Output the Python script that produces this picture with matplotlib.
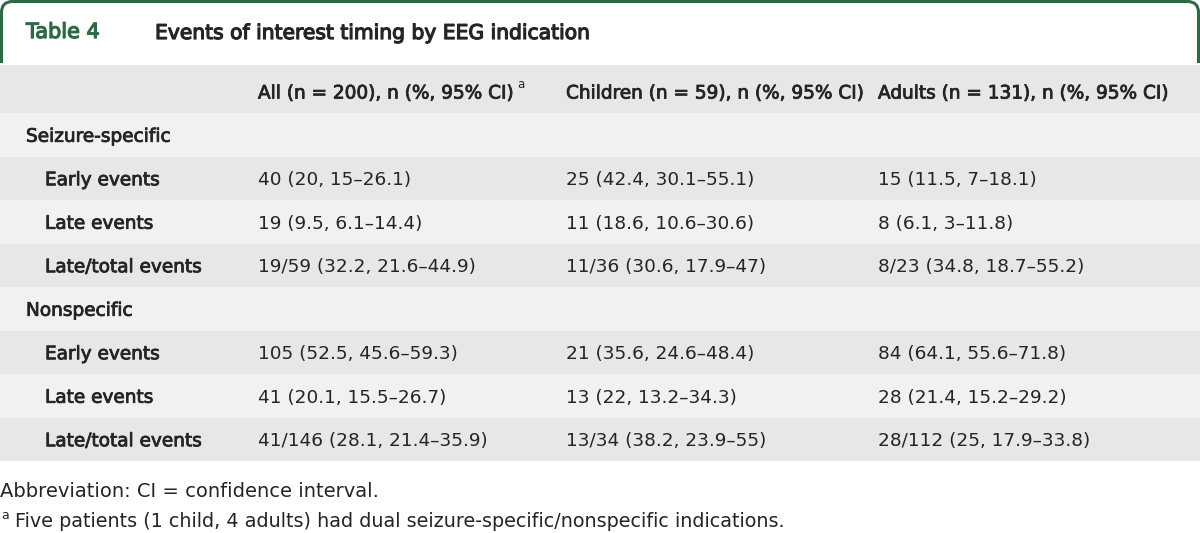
import matplotlib
matplotlib.use("Agg")
import matplotlib.pyplot as plt
from matplotlib.patches import Rectangle, PathPatch
from matplotlib.path import Path
import matplotlib.patheffects as pe

W, H = 1200, 533
table_label = "Table 4"
table_title = "Events of interest timing by EEG indication"
col_headers = ["All (n = 200), n (%, 95% CI)", "Children (n = 59), n (%, 95% CI)",
               "Adults (n = 131), n (%, 95% CI)"]
header_sup = "a"
row_labels = ["Seizure-specific", "Early events", "Late events", "Late/total events",
              "Nonspecific", "Early events", "Late events", "Late/total events"]
row_is_section = [True, False, False, False, True, False, False, False]
all_col = ["", "40 (20, 15–26.1)", "19 (9.5, 6.1–14.4)", "19/59 (32.2, 21.6–44.9)",
           "", "105 (52.5, 45.6–59.3)", "41 (20.1, 15.5–26.7)", "41/146 (28.1, 21.4–35.9)"]
children_col = ["", "25 (42.4, 30.1–55.1)", "11 (18.6, 10.6–30.6)", "11/36 (30.6, 17.9–47)",
                "", "21 (35.6, 24.6–48.4)", "13 (22, 13.2–34.3)", "13/34 (38.2, 23.9–55)"]
adults_col = ["", "15 (11.5, 7–18.1)", "8 (6.1, 3–11.8)", "8/23 (34.8, 18.7–55.2)",
              "", "84 (64.1, 55.6–71.8)", "28 (21.4, 15.2–29.2)", "28/112 (25, 17.9–33.8)"]
footnote1 = "Abbreviation: CI = confidence interval."
footnote2_sup = "a"
footnote2 = "Five patients (1 child, 4 adults) had dual seizure-specific/nonspecific indications."

GREEN = "#2c6a46"
TXT = "#262425"
DARK = "#e6e7e7"
LIGHT = "#f1f1f1"
FONT = ["DejaVu Sans"]
semi = [pe.withStroke(linewidth=0.6, foreground=TXT)]
semi_g = [pe.withStroke(linewidth=0.9, foreground=GREEN)]
semi_t = [pe.withStroke(linewidth=0.9, foreground=TXT)]

fig = plt.figure(figsize=(W / 100, H / 100), dpi=100)
ax = fig.add_axes([0, 0, 1, 1])
ax.set_xlim(0, W)
ax.set_ylim(H, 0)
ax.axis("off")

# title frame
r = 11
verts = [(1.5, 63), (1.5, 1.5 + r), (1.5, 1.5), (1.5 + r, 1.5), (W - 1.5 - r, 1.5),
         (W - 1.5, 1.5), (W - 1.5, 1.5 + r), (W - 1.5, 63)]
codes = [Path.MOVETO, Path.LINETO, Path.CURVE3, Path.CURVE3, Path.LINETO,
         Path.CURVE3, Path.CURVE3, Path.LINETO]
ax.add_patch(PathPatch(Path(verts, codes), fill=False, edgecolor=GREEN, lw=2.2, capstyle="butt"))
ax.text(26, 38, table_label, color=GREEN, fontsize=15, family=FONT, va="baseline",
        path_effects=semi_g)
ax.text(155, 39, table_title, color=TXT, fontsize=14.6, family=FONT, va="baseline",
        path_effects=semi_t)

# header band
hdr_top, hdr_bot = 65, 113
ax.add_patch(Rectangle((0, hdr_top), W, hdr_bot - hdr_top, color=DARK, lw=0))
col_x = [258, 566, 878]
hdr_texts = []
for x, h in zip(col_x, col_headers):
    hdr_texts.append(ax.text(x, 98.5, h, color=TXT, fontsize=13.3, family=FONT,
                             va="baseline", path_effects=semi))
fig.canvas.draw()
bb = hdr_texts[0].get_window_extent()
ax.text(bb.x1 + 3, 88, header_sup, color=TXT, fontsize=8.5, family=FONT, va="baseline")

# body rows
row_h = 43.5
for i, lab in enumerate(row_labels):
    y0 = hdr_bot + i * row_h
    ax.add_patch(Rectangle((0, y0), W, row_h, color=LIGHT if i % 2 == 0 else DARK, lw=0))
    yb = y0 + row_h / 2 + 7
    lx = 26 if row_is_section[i] else 45
    ax.text(lx, yb, lab, color=TXT, fontsize=13.3, family=FONT, va="baseline",
            path_effects=semi)
    for x, col in zip(col_x, [all_col, children_col, adults_col]):
        if col[i]:
            ax.text(x, yb, col[i], color=TXT, fontsize=13.3, family=FONT, va="baseline")

# footnotes
ax.text(0, 497, footnote1, color=TXT, fontsize=14, family=FONT, va="baseline")
ax.text(1, 519, footnote2_sup, color=TXT, fontsize=9, family=FONT, va="baseline")
ax.text(15, 527, footnote2, color=TXT, fontsize=13.8, family=FONT, va="baseline")

fig.savefig("out.png", dpi=100)
